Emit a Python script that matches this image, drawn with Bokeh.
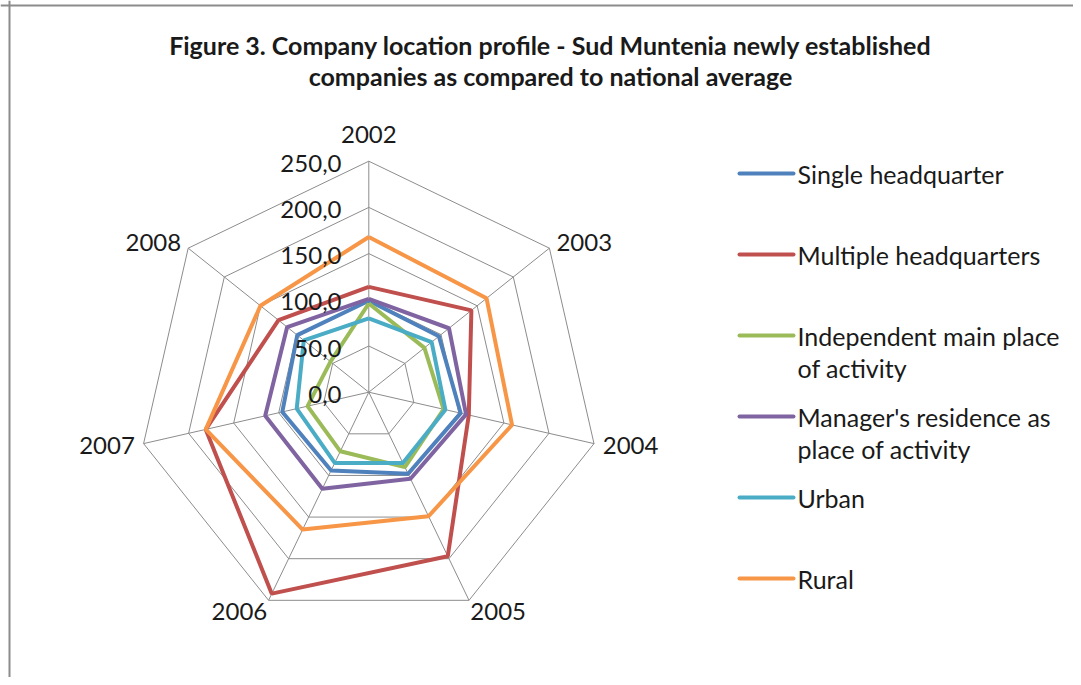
import math
from bokeh.plotting import figure
from bokeh.models import Range1d, Span
from bokeh.core.properties import value
from bokeh.embed import file_html
from bokeh.resources import INLINE

# ---------------- data ----------------
years = ["2002", "2003", "2004", "2005", "2006", "2007", "2008"]
ticks = [0, 50, 100, 150, 200, 250]
tick_labels = ["0,0", "50,0", "100,0", "150,0", "200,0", "250,0"]

series_names = [
    "Single headquarter",
    "Multiple headquarters",
    "Independent main place\nof activity",
    "Manager's residence as\nplace of activity",
    "Urban",
    "Rural",
]
single_hq = [99, 97, 102, 98, 94, 96, 99]
multiple_hq = [114, 142, 111, 197, 242, 181, 125]
independent = [96, 77, 83, 90, 71, 68, 53]
manager_res = [101, 111, 108, 104, 116, 115, 113]
urban = [80, 87, 85, 85, 85, 80, 90]
rural = [168, 163, 159, 149, 165, 181, 150]
series_values = [single_hq, multiple_hq, independent, manager_res, urban, rural]
colors = ["#4F81BD", "#C0504D", "#9BBB59", "#8064A2", "#4BACC6", "#F79646"]

# ---------------- layout ----------------
W, H = 1073, 677
K = 0.924                 # px per unit
CX, CY = 368.3, 391.7     # radar centre on canvas (px)
RMAX = 250

def X(px):   # canvas x (px) -> data
    return (px - CX) / K

def Y(py):   # canvas y (px, downwards) -> data
    return (CY - py) / K

p = figure(width=W, height=H, output_backend="svg", toolbar_location=None,
           x_range=Range1d(-CX / K, (W - CX) / K),
           y_range=Range1d(-(H - CY) / K, CY / K),
           min_border=0, outline_line_color=None,
           background_fill_color="white", border_fill_color="white")
p.axis.visible = False
p.grid.visible = False

n = len(years)
angles = [math.pi / 2 - 2 * math.pi * i / n for i in range(n)]
dirs = [(math.cos(a), math.sin(a)) for a in angles]

FONT = value("Lato")
GRID = "#8C8C8C"
TXT = "#1a1a1a"

# rings
for t in ticks[1:]:
    xs = [dx * t for dx, dy in dirs] + [dirs[0][0] * t]
    ys = [dy * t for dx, dy in dirs] + [dirs[0][1] * t]
    p.line(xs, ys, line_color=GRID, line_width=1)
# spokes
p.segment(x0=[0] * n, y0=[0] * n,
          x1=[dx * RMAX for dx, dy in dirs], y1=[dy * RMAX for dx, dy in dirs],
          line_color=GRID, line_width=1)

# series
for vals, col in zip(series_values, colors):
    xs = [dx * v for (dx, dy), v in zip(dirs, vals)]
    ys = [dy * v for (dx, dy), v in zip(dirs, vals)]
    p.line(xs + xs[:1], ys + ys[:1], line_color=col, line_width=4)

# tick labels (left of the top spoke)
p.text(x=[X(341)] * len(ticks), y=[t - 2 / K for t in ticks], text=tick_labels,
       text_font=FONT, text_font_size="24px", text_color=TXT,
       text_align="right", text_baseline="middle")

# category labels
for (dx, dy), yr in zip(dirs, years):
    if dy > 0.99:
        pad = 18
    elif dy < -0.5:
        pad = 3
    else:
        pad = 9
    lx, ly = dx * (RMAX + pad / K), dy * (RMAX + pad / K)
    if abs(dx) < 0.1:
        align = "center"
    elif dx > 0:
        align = "left"
    else:
        align = "right"
    if dy > 0.9:
        base = "bottom"
    elif dy < -0.5:
        base = "top"
    else:
        base = "middle"
    p.text(x=[lx], y=[ly], text=[yr], text_font=FONT, text_font_size="24px",
           text_color=TXT, text_align=align, text_baseline=base)

# title
p.text(x=[X(550), X(550)], y=[Y(44), Y(75)],
       text=["Figure 3. Company location profile - Sud Muntenia newly established",
             "companies as compared to national average"],
       text_font=FONT, text_font_style="bold", text_font_size="25px",
       text_color=TXT, text_align="center", text_baseline="middle")

# legend
leg_y = [173, 254, 335, 416, 497, 578]
for name, col, ly in zip(series_names, colors, leg_y):
    p.segment(x0=[X(739)], y0=[Y(ly)], x1=[X(793)], y1=[Y(ly)],
              line_color=col, line_width=4, line_cap="round")
    for j, part in enumerate(name.split("\n")):
        p.text(x=[X(797)], y=[Y(ly + 32 * j)], text=[part], text_font=FONT,
               text_font_size="25px", text_color=TXT,
               text_align="left", text_baseline="middle")

# frame (left and top border)
p.add_layout(Span(location=X(9), dimension="height", line_color="#8C8C8C", line_width=2))
p.add_layout(Span(location=Y(5), dimension="width", line_color="#8C8C8C", line_width=2))

open("out.html", "w").write(file_html(p, INLINE))
